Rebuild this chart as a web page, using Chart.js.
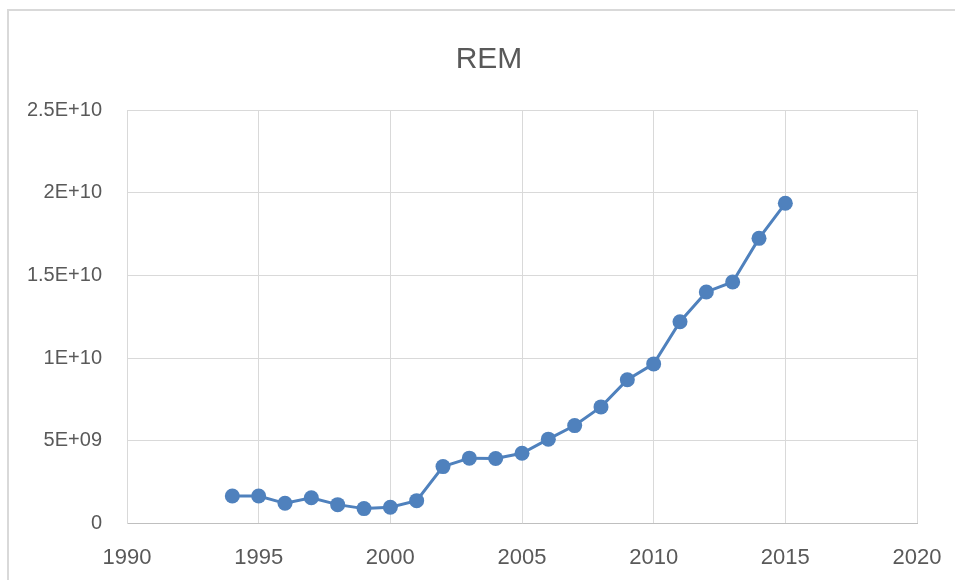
<!DOCTYPE html>
<html>
<head>
<meta charset="utf-8">
<title>REM</title>
<script src="https://cdn.jsdelivr.net/npm/chart.js@4/dist/chart.umd.min.js"></script>
<style>
    body { margin: 0; background: #ffffff; overflow: hidden; }
    #marco { position: absolute; left: 7px; top: 9px; width: 960px; height: 600px; border-left: 2px solid #d9d9d9; border-top: 2px solid #d9d9d9; }
    #grafico { position: absolute; left: 0; top: 0; }
</style>
</head>
<body>
<div id="marco"></div>
<canvas id="grafico" width="970" height="580"></canvas>
<script>
// datos
var anios = [1994, 1995, 1996, 1997, 1998, 1999, 2000, 2001, 2002, 2003, 2004,
    2005, 2006, 2007, 2008, 2009, 2010, 2011, 2012, 2013, 2014, 2015];
var rem = [1.66e9, 1.66e9, 1.22e9, 1.56e9, 1.14e9, 0.90e9, 0.98e9, 1.38e9, 3.44e9, 3.95e9, 3.93e9,
    4.25e9, 5.10e9, 5.92e9, 7.05e9, 8.69e9, 9.65e9, 12.2e9, 14.0e9, 14.6e9, 17.24e9, 19.36e9];
var ticksX = [1990, 1995, 2000, 2005, 2010, 2015, 2020];
var ticksY = [0, 5e9, 1e10, 1.5e10, 2e10, 2.5e10];
var titulo = "REM";

var azul = "#4f81bd";
var gris = "#595959";
var fuente = "'Liberation Sans', Arial, sans-serif";

function formatoCientifico(valor) {
    if (valor == 0) return "0";
    var exp = Math.floor(Math.log10(valor));
    var mant = Math.round(valor / Math.pow(10, exp) * 100) / 100;
    var e = exp < 10 ? "0" + exp : "" + exp;
    return mant + "E+" + e;
}

var puntos = [];
for (var i = 0; i < anios.length; i++) {
    puntos.push({ x: anios[i], y: rem[i] });
}

const data = {
    datasets: [{
        label: titulo,
        data: puntos,
        borderColor: azul,
        backgroundColor: azul,
        borderWidth: 3,
        pointRadius: 7.5,
        pointHoverRadius: 7.5,
        pointBorderWidth: 0,
        tension: 0,
        showLine: true
    }]
};

const config = {
    type: 'scatter',
    data: data,
    options: {
        responsive: false,
        animation: false,
        layout: { padding: { top: 10, left: 8, right: 0, bottom: 0 } },
        plugins: {
            legend: { display: false },
            tooltip: { enabled: false },
            title: {
                display: true,
                text: titulo,
                color: gris,
                font: { family: fuente, size: 30, weight: 'normal' },
                padding: { top: 32, bottom: 32 }
            }
        },
        scales: {
            x: {
                type: 'linear',
                min: ticksX[0],
                max: ticksX[ticksX.length - 1],
                afterBuildTicks: function (scale) {
                    scale.ticks = ticksX.map(function (v) { return { value: v }; });
                },
                afterFit: function (scale) { scale.height = 56.5; },
                grid: { color: '#d9d9d9', drawTicks: false },
                border: { color: '#bfbfbf' },
                ticks: {
                    color: gris,
                    padding: 21,
                    maxRotation: 0,
                    font: { family: fuente, size: 22 },
                    callback: function (v) { return "" + v; }
                }
            },
            y: {
                min: ticksY[0],
                max: ticksY[ticksY.length - 1],
                afterBuildTicks: function (scale) {
                    scale.ticks = ticksY.map(function (v) { return { value: v }; });
                },
                afterFit: function (scale) { scale.width = 119; },
                grid: { color: '#d9d9d9', drawTicks: false },
                border: { color: '#d9d9d9' },
                ticks: {
                    color: gris,
                    padding: 25,
                    font: { family: fuente, size: 20 },
                    callback: function (v) { return formatoCientifico(v); }
                }
            },
            // eje vacio a la derecha, solo reserva el margen del marco
            derecha: {
                position: 'right',
                grid: { display: false },
                border: { display: false },
                ticks: { display: false },
                afterFit: function (scale) { scale.width = 53; }
            }
        }
    }
};

var myChart = new Chart(document.getElementById('grafico'), config);
</script>
</body>
</html>
